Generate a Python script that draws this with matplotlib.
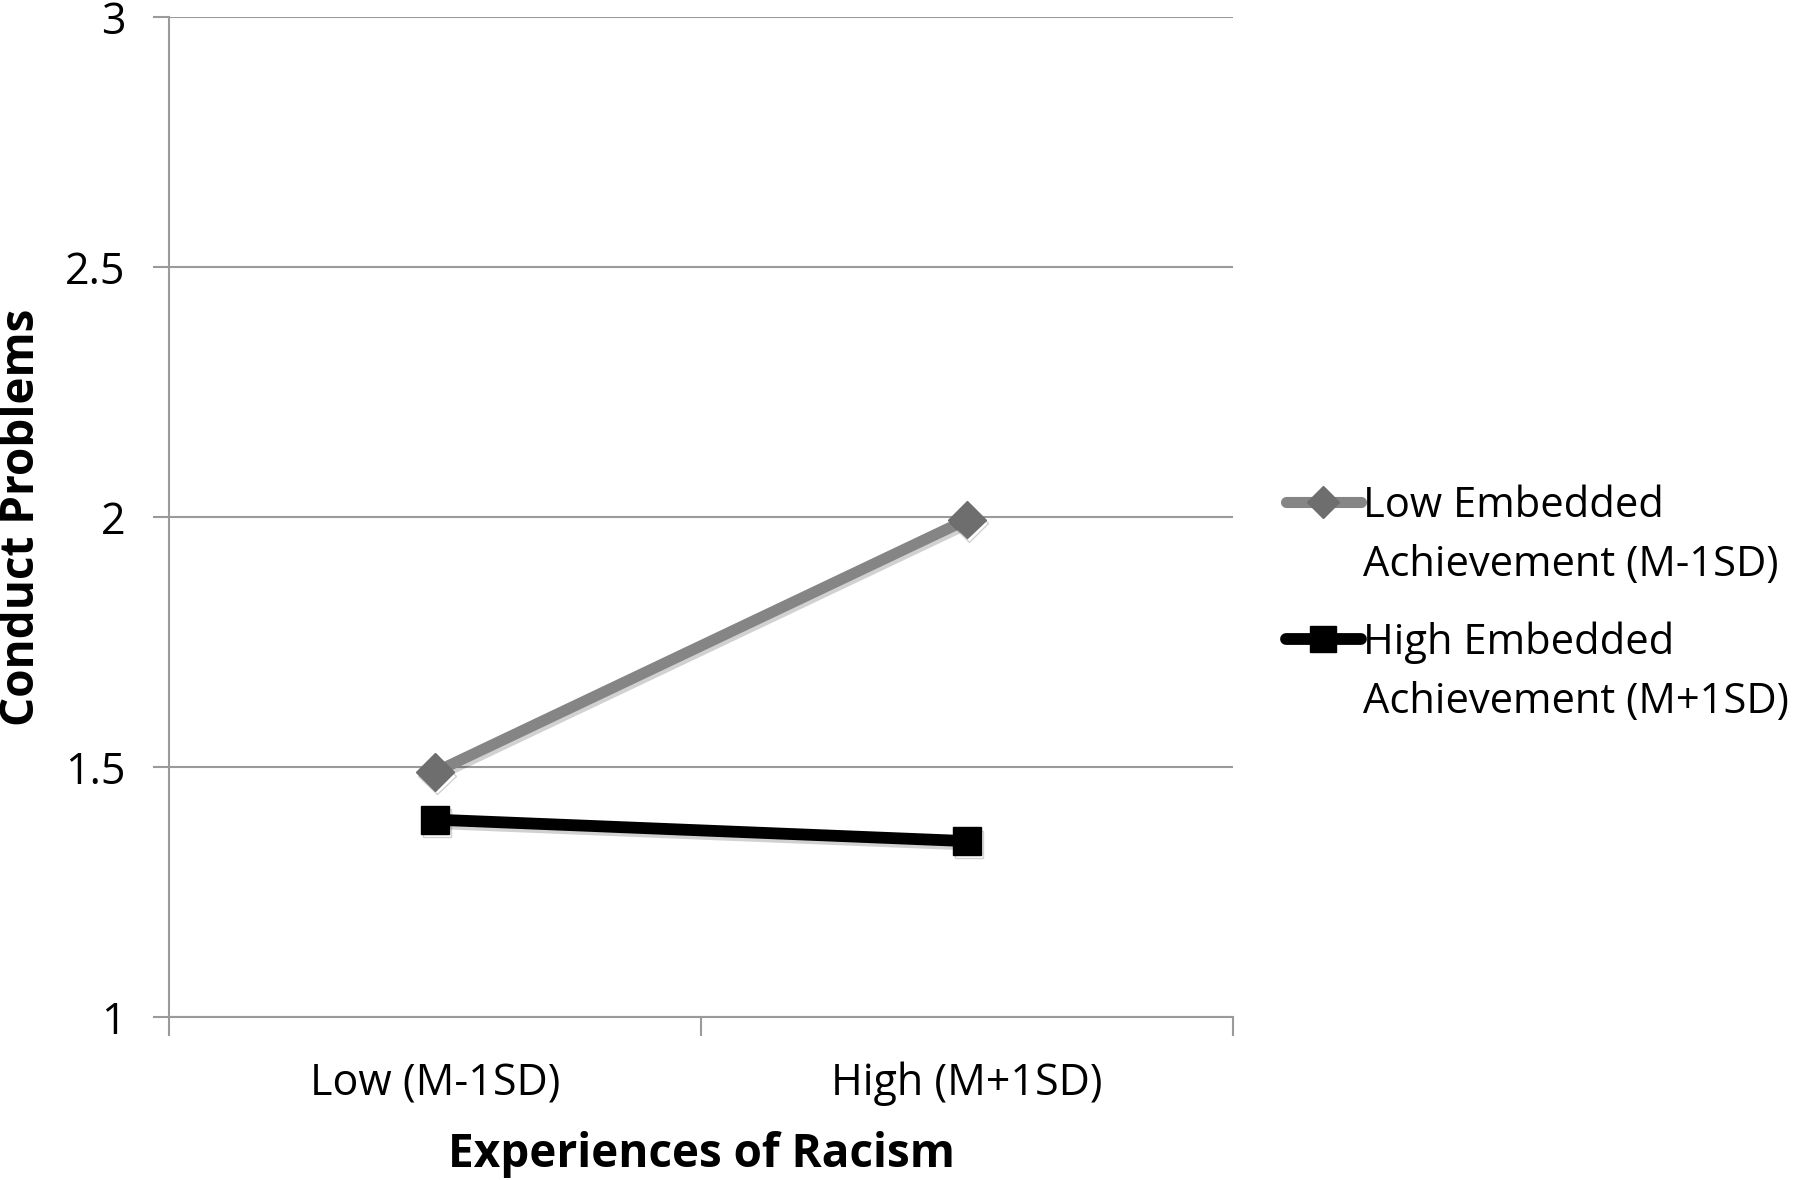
import numpy as np
import matplotlib.pyplot as plt
import matplotlib.patheffects as pe
from matplotlib.lines import Line2D
from matplotlib.ticker import FixedLocator

plt.rcParams['font.family'] = ['Open Sans', 'DejaVu Sans']

# data
categories = ['Low (M-1SD)', 'High (M+1SD)']
low_embedded = [1.49, 1.995]
high_embedded = [1.395, 1.352]
series_labels = [('Low Embedded', 'Achievement (M-1SD)'),
                 ('High Embedded', 'Achievement (M+1SD)')]
y_ticks = [1, 1.5, 2, 2.5, 3]

grid_col = '#9a9a9a'
shadow = [pe.SimpleLineShadow(offset=(1.5, -2.5), shadow_color='#000000', alpha=0.18), pe.Normal()]

fig = plt.figure(figsize=(18, 11.8), dpi=100)
ax = fig.add_axes([0.0939, 0.138, 0.685 - 0.0939, 0.9856 - 0.138])

x = np.arange(len(categories))
ax.plot(x, low_embedded, color='#858585', lw=8, marker='D', ms=19,
        mfc='#6e6e6e', mec='#6e6e6e', zorder=3, path_effects=shadow)
ax.plot(x, high_embedded, color='black', lw=8.5, marker='s', ms=20,
        mfc='black', mec='black', zorder=3, path_effects=shadow)

ax.set_xlim(-0.5, len(categories) - 0.5)
ax.set_ylim(1, 3)
ax.set_yticks(y_ticks)
ax.set_yticklabels(['1', '1.5', '2', '2.5', '3'])
ax.set_xticks(x)
ax.set_xticklabels(categories)
ax.xaxis.set_minor_locator(FixedLocator(np.arange(len(categories) + 1) - 0.5))
ax.tick_params(axis='x', which='major', length=0, pad=32, labelsize=31)
ax.tick_params(axis='x', which='minor', length=14, width=1.5, color=grid_col)
ax.tick_params(axis='y', length=11.5, width=1.5, color=grid_col, pad=20, labelsize=31)

ax.grid(axis='y', color=grid_col, lw=1.5, zorder=0)
for s in ['top', 'right']:
    ax.spines[s].set_visible(False)
for s in ['left', 'bottom']:
    ax.spines[s].set_color(grid_col)
    ax.spines[s].set_linewidth(1.5)

ax.set_xlabel('Experiences of Racism', fontsize=33, fontweight='bold', labelpad=18)
ax.set_ylabel('Conduct Problems', fontsize=33, fontweight='bold', labelpad=14)

# legend: handle sits on the first line of each label, like the Excel legend
h1 = Line2D([], [], color='#858585', lw=8, marker='D', ms=16, mfc='#6e6e6e',
            mec='#6e6e6e', solid_capstyle='round')
h2 = Line2D([], [], color='black', lw=8.5, marker='s', ms=19, mfc='black',
            mec='black', solid_capstyle='round')
blank = Line2D([], [], color='none')
leg_kw = dict(loc='upper left', frameon=False, fontsize=30, handlelength=1.8,
              handletextpad=0.05, labelspacing=0.42, borderpad=0, borderaxespad=0)
fig.legend([h1, blank], list(series_labels[0]), bbox_to_anchor=(0.7144, 0.5894), **leg_kw)
fig.legend([h2, blank], list(series_labels[1]), bbox_to_anchor=(0.7144, 0.4737), **leg_kw)

fig.savefig('out.png', dpi=100)
